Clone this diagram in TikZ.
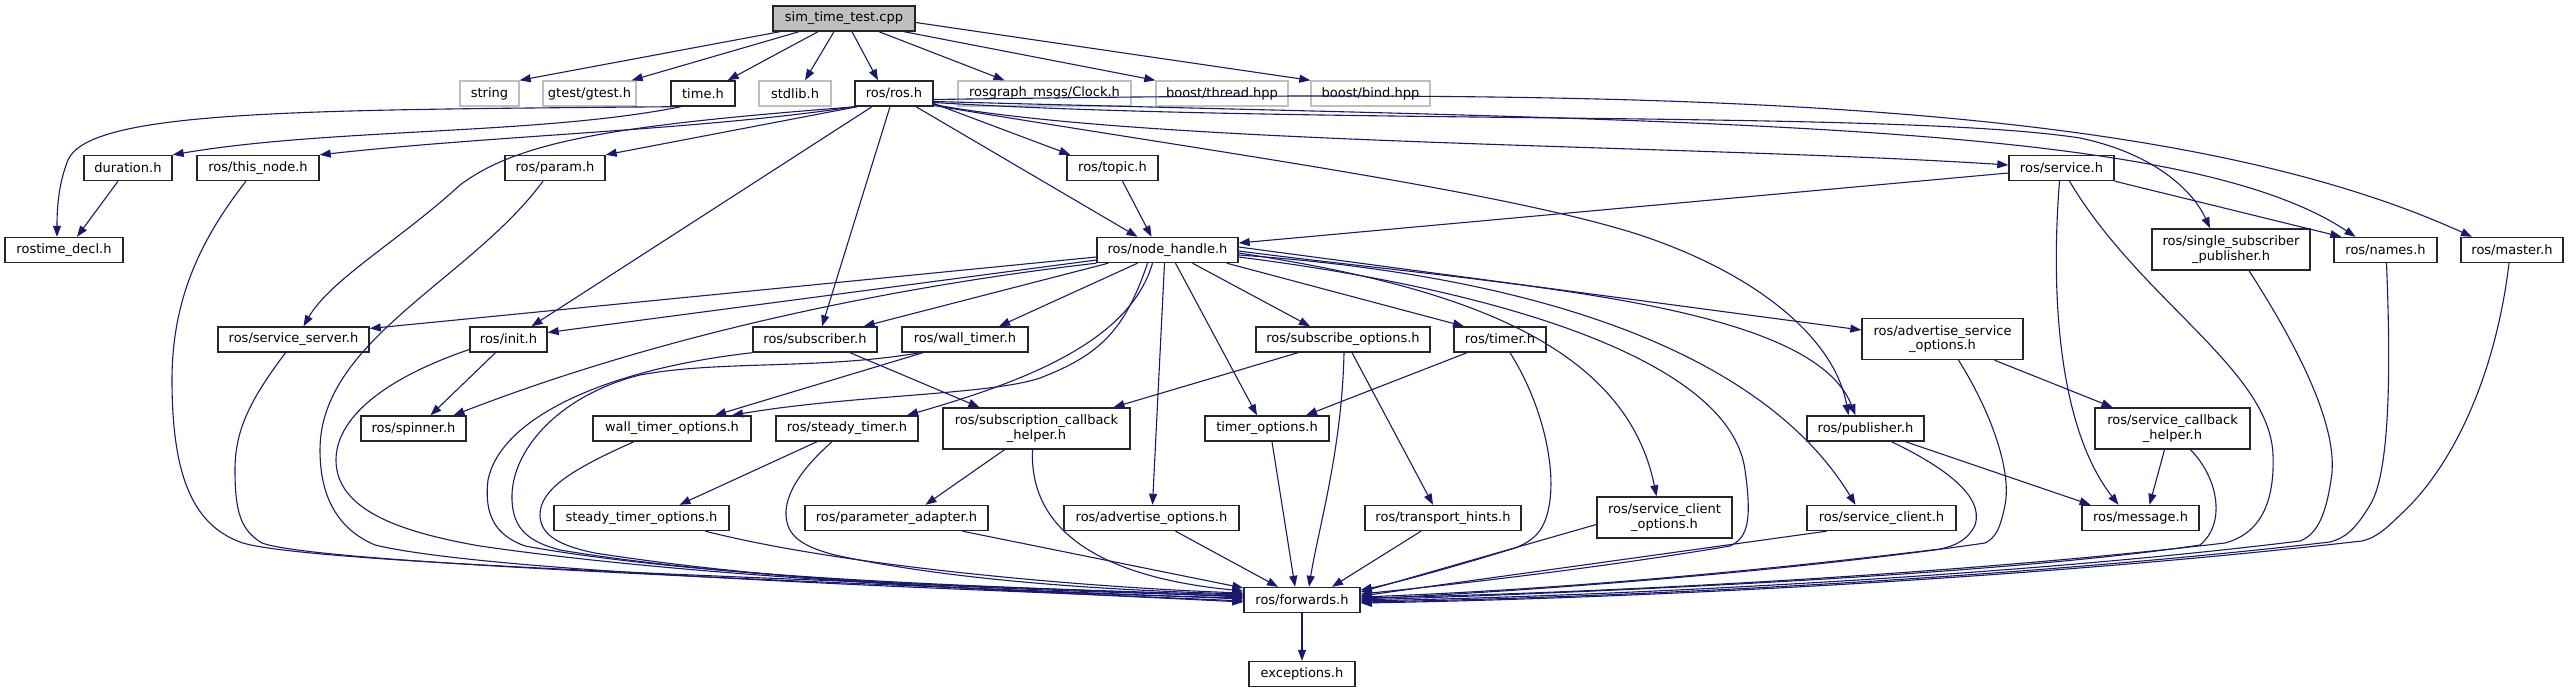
\documentclass[tikz,border=0pt]{standalone}
\usepackage{fontspec}
\setmainfont{DejaVu Sans}
\usetikzlibrary{arrows.meta}
\definecolor{edgec}{HTML}{191970}
\definecolor{extc}{HTML}{BFBFBF}
\begin{document}
\begin{tikzpicture}[x=1pt,y=-1pt,
  nd/.style={draw=black!85, line width=1.4pt, fill=white, rectangle, minimum height=25pt, inner sep=1pt, font=\fontsize{13}{14.5}\selectfont},
  two/.style={nd, minimum height=41pt, align=center},
  ext/.style={nd, draw=extc},
  root/.style={nd, fill=extc},
  e/.style={draw=edgec, line width=1.1pt, -{Triangle[length=11pt,width=8pt]}}]
\fill[white] (0,0) rectangle (2569,693);
\useasboundingbox (0,0) rectangle (2569,693);
% row 0
\node[root, minimum width=142pt] (S) at (844,18.5) {sim\_time\_test.cpp};
% row 1
\node[ext, minimum width=59pt] (str) at (489.5,93.5) {string};
\node[ext, minimum width=93pt] (gt) at (589.5,93.5) {gtest/gtest.h};
\node[nd, minimum width=64pt] (tm) at (703,93.5) {time.h};
\node[ext, minimum width=72pt] (stl) at (795,93.5) {stdlib.h};
\node[nd, minimum width=78pt] (ros) at (894,93.5) {ros/ros.h};
\node[ext, minimum width=173pt] (clk) at (1044.5,93.5) {rosgraph\_msgs/Clock.h};
\node[ext, minimum width=132pt] (thr) at (1222,93.5) {boost/thread.hpp};
\node[ext, minimum width=119pt] (bnd) at (1370.5,93.5) {boost/bind.hpp};
% row 2
\node[nd, minimum width=88pt] (dur) at (128,168) {duration.h};
\node[nd, minimum width=122pt] (tn) at (258,168) {ros/this\_node.h};
\node[nd, minimum width=100pt] (par) at (555,168) {ros/param.h};
\node[nd, minimum width=91pt] (top) at (1112.5,168) {ros/topic.h};
\node[nd, minimum width=105pt] (srv) at (2061.5,168) {ros/service.h};
% row 3
\node[nd, minimum width=118pt] (rtd) at (64,250) {rostime\_decl.h};
\node[nd, minimum width=141pt] (nh) at (1167.5,250) {ros/node\_handle.h};
\node[two, minimum width=158pt] (ssp) at (2231,249.5) {ros/single\_subscriber\\\_publisher.h};
\node[nd, minimum width=103pt] (nam) at (2385.5,250) {ros/names.h};
\node[nd, minimum width=102pt] (mst) at (2512,250) {ros/master.h};
% row 4
\node[nd, minimum width=151pt] (ss) at (293.5,339.5) {ros/service\_server.h};
\node[nd, minimum width=77pt] (ini) at (508.5,339.5) {ros/init.h};
\node[nd, minimum width=124pt] (sub) at (815,339.5) {ros/subscriber.h};
\node[nd, minimum width=126pt] (wt) at (965,339.5) {ros/wall\_timer.h};
\node[nd, minimum width=174pt] (so) at (1343,339.5) {ros/subscribe\_options.h};
\node[nd, minimum width=92pt] (tmr) at (1500,339.5) {ros/timer.h};
\node[two, minimum width=161pt] (aso) at (1942.5,339) {ros/advertise\_service\\\_options.h};
% row 5
\node[nd, minimum width=105pt] (spn) at (413.5,428.5) {ros/spinner.h};
\node[nd, minimum width=158pt] (wto) at (672,428.5) {wall\_timer\_options.h};
\node[nd, minimum width=142pt] (st) at (847,428.5) {ros/steady\_timer.h};
\node[two, minimum width=187pt] (sch) at (1036.5,428.5) {ros/subscription\_callback\\\_helper.h};
\node[nd, minimum width=124pt] (tmo) at (1267,428.5) {timer\_options.h};
\node[nd, minimum width=117pt] (pub) at (1865.5,428.5) {ros/publisher.h};
\node[two, minimum width=155pt] (scb) at (2172.5,428.5) {ros/service\_callback\\\_helper.h};
% row 6
\node[nd, minimum width=175pt] (sto) at (641.5,518) {steady\_timer\_options.h};
\node[nd, minimum width=183pt] (pa) at (896.5,518) {ros/parameter\_adapter.h};
\node[nd, minimum width=175pt] (ao) at (1151.5,518) {ros/advertise\_options.h};
\node[nd, minimum width=156pt] (th) at (1443,518) {ros/transport\_hints.h};
\node[two, minimum width=135pt] (sco) at (1664.5,517.5) {ros/service\_client\\\_options.h};
\node[nd, minimum width=149pt] (sc) at (1881.5,518) {ros/service\_client.h};
\node[nd, minimum width=117pt] (msg) at (2140.5,518) {ros/message.h};
% rows 7-8
\node[nd, minimum width=116pt] (fw) at (1302,600) {ros/forwards.h};
\node[nd, minimum width=106pt] (exc) at (1302,674) {exceptions.h};

% ---- edges from sim_time_test.cpp
\draw[e] ([xshift=-64pt]S.south) -- (str.north east);
\draw[e] ([xshift=-45pt]S.south) -- ([xshift=-5pt]gt.north east);
\draw[e] ([xshift=-26pt]S.south) -- ([xshift=-8pt]tm.north east);
\draw[e] ([xshift=-10pt]S.south) -- ([xshift=10pt]stl.north);
\draw[e] ([xshift=8pt]S.south) -- ([xshift=-16pt]ros.north);
\draw[e] ([xshift=35pt]S.south) -- ([xshift=-40pt]clk.north);
\draw[e] ([xshift=60pt]S.south) -- (thr.north west);
\draw[e] ([yshift=-4pt]S.east) -- (bnd.north west);
% ---- time.h / duration.h
\draw[e] ([xshift=-30pt]tm.south) .. controls (300,110) and (90,110) .. (68,160) .. controls (58,185) and (57,210) .. ([xshift=-7pt]rtd.north);
\draw[e] ([xshift=-22pt]tm.south) .. controls (540,135) and (330,128) .. (dur.north east);
\draw[e] ([xshift=-10pt]dur.south) -- ([xshift=13pt]rtd.north);
% ---- ros/ros.h
\draw[e] (ros.south west) .. controls (700,130) and (500,135) .. (tn.north east);
\draw[e] ([xshift=2pt]ros.south west) .. controls (620,125) and (520,140) .. (460,185) .. controls (400,240) and (330,280) .. ([xshift=10pt]ss.north);
\draw[e] ([xshift=3pt]ros.south west) -- (par.north east);
\draw[e] ([xshift=-22pt]ros.south) -- ([xshift=23pt]ini.north);
\draw[e] ([xshift=-4pt]ros.south) -- ([xshift=7pt]sub.north);
\draw[e] ([xshift=22pt]ros.south) -- ([xshift=-30pt]nh.north);
\draw[e] ([yshift=-10pt]ros.east) -- ([xshift=4pt]top.north west);
\draw[e] ([yshift=-11pt]ros.east) .. controls (1150,145) and (1700,145) .. ([yshift=3pt]srv.west);
\draw[e] ([yshift=-12pt]ros.east) .. controls (1200,150) and (1500,190) .. (1640,235) .. controls (1760,275) and (1835,340) .. ([xshift=-17pt]pub.north);
\draw[e] ([yshift=-9pt]ros.east) .. controls (1300,125) and (1900,110) .. (2080,138) .. controls (2160,155) and (2195,195) .. ([xshift=-21pt]ssp.north);
\draw[e] ([yshift=-8pt]ros.east) .. controls (1700,122) and (2180,120) .. ([xshift=-30pt]nam.north);
\draw[e] ([yshift=-6pt]ros.east) .. controls (1600,90) and (2150,90) .. ([xshift=-40pt]mst.north);
% ---- topic / service
\draw[e] ([xshift=10pt]top.south) -- ([xshift=-16pt]nh.north);
\draw[e] ([yshift=-5pt]srv.west) -- ([yshift=7pt]nh.east);
\draw[e] (srv.south east) -- ([xshift=8pt]nam.north west);
\draw[e] ([xshift=-2pt]srv.south) .. controls (2050,300) and (2060,430) .. ([xshift=-22pt]msg.north);
\draw[e] ([xshift=8pt]srv.south) .. controls (2140,300) and (2270,370) .. (2273,455) .. controls (2275,510) and (2255,535) .. (2225,543) .. controls (1950,575) and (1600,593) .. ([yshift=2pt]fw.east);
% ---- node_handle
\draw[e] ([yshift=-7pt]nh.west) -- ([yshift=11pt]ss.east);
\draw[e] ([yshift=-10pt]nh.west) -- ([yshift=7pt]ini.east);
\draw[e] (nh.south west) .. controls (950,280) and (700,320) .. ([xshift=40pt]spn.north);
\draw[e] ([xshift=12pt]nh.south west) -- ([xshift=-14pt]sub.north east);
\draw[e] ([xshift=-30pt]nh.south) -- ([xshift=34pt]wt.north);
\draw[e] ([xshift=-20pt]nh.south) .. controls (1125,330) and (1100,355) .. (1040,378) .. controls (990,395) and (850,395) .. ([xshift=60pt]wto.north);
\draw[e] ([xshift=-15pt]nh.south) .. controls (1130,340) and (1030,380) .. ([xshift=60pt]st.north);
\draw[e] ([xshift=-3pt]nh.south) -- ([xshift=1pt]ao.north);
\draw[e] ([xshift=8pt]nh.south) -- ([xshift=-10pt]tmo.north);
\draw[e] ([xshift=25pt]nh.south) -- ([xshift=-33pt]so.north);
\draw[e] ([xshift=-12pt]nh.south east) -- ([xshift=-36pt]tmr.north);
\draw[e] ([yshift=3pt]nh.east) -- ([yshift=9pt]aso.west);
\draw[e] ([yshift=-1pt]nh.east) .. controls (1500,285) and (1810,300) .. ([xshift=-10pt]pub.north);
\draw[e] ([yshift=-3pt]nh.east) .. controls (1450,285) and (1625,340) .. ([xshift=-8pt]sco.north);
\draw[e] ([yshift=-5pt]nh.east) .. controls (1600,280) and (1780,380) .. ([xshift=-26pt]sc.north);
\draw[e] ([yshift=-7pt]nh.east) .. controls (1500,290) and (1730,360) .. (1745,470) .. controls (1752,520) and (1748,538) .. (1730,546) .. controls (1600,568) and (1450,585) .. ([yshift=6pt]fw.east);
% ---- left side into forwards
\draw[e] ([xshift=-12pt]tn.south) .. controls (200,240) and (172,300) .. (172,380) .. controls (172,480) and (195,525) .. (240,542) .. controls (300,565) and (900,582) .. ([yshift=3pt]fw.west);
\draw[e] ([xshift=-8pt]ss.south) .. controls (250,400) and (235,430) .. (235,470) .. controls (235,510) and (240,530) .. (262,543) .. controls (320,565) and (900,585) .. ([yshift=1pt]fw.west);
\draw[e] ([xshift=-12pt]par.south) .. controls (470,280) and (320,340) .. (320,450) .. controls (320,500) and (340,530) .. (375,545) .. controls (500,575) and (1000,590) .. ([yshift=-1pt]fw.west);
\draw[e] ([yshift=-10pt]ini.west) .. controls (380,380) and (336,420) .. (336,460) .. controls (336,510) and (400,532) .. (480,546) .. controls (700,578) and (1000,590) .. ([yshift=-2pt]fw.west);
\draw[e] ([xshift=-13pt]ini.south) -- ([xshift=17pt]spn.north);
\draw[e] (sub.south west) .. controls (600,370) and (500,420) .. (488,480) .. controls (484,515) and (495,535) .. (525,546) .. controls (700,578) and (1000,588) .. ([yshift=5pt]fw.west);
\draw[e] ([xshift=35pt]sub.south) -- ([xshift=-57pt]sch.north);
\draw[e] ([xshift=-42pt]wt.south) -- ([xshift=43pt]wto.north);
\draw[e] ([xshift=-45pt]wt.south) .. controls (820,370) and (720,360) .. (640,375) .. controls (560,395) and (510,450) .. (512,500) .. controls (513,530) and (530,542) .. (560,550) .. controls (750,582) and (1050,591) .. ([yshift=4pt]fw.west);
\draw[e] ([xshift=-38pt]wto.south) .. controls (570,470) and (540,490) .. (540,515) .. controls (540,535) and (560,546) .. (595,553) .. controls (800,585) and (1050,593) .. ([yshift=2pt]fw.west);
\draw[e] ([xshift=-30pt]st.south) -- ([xshift=38pt]sto.north);
\draw[e] ([xshift=-15pt]st.south) .. controls (800,470) and (785,495) .. (786,515) .. controls (787,535) and (800,546) .. (835,555) .. controls (950,580) and (1100,590) .. ([yshift=6pt]fw.west);
\draw[e] ([xshift=64pt]sto.south) .. controls (850,568) and (1100,588) .. ([yshift=7pt]fw.west);
\draw[e] ([xshift=66pt]pa.south) -- ([yshift=12pt]fw.west);
\draw[e] ([xshift=-32pt]sch.south) -- ([xshift=29pt]pa.north);
\draw[e] ([xshift=-4pt]sch.south) .. controls (1028,555) and (1150,582) .. ([yshift=9pt]fw.west);
% ---- middle
\draw[e] ([xshift=-45pt]so.south) -- ([xshift=77pt]sch.north);
\draw[e] ([xshift=1pt]so.south) .. controls (1342,450) and (1318,530) .. ([xshift=7pt]fw.north);
\draw[e] ([xshift=9pt]so.south) -- ([xshift=-10pt]th.north);
\draw[e] ([xshift=-22pt]th.south) -- ([xshift=30pt]fw.north);
\draw[e] ([xshift=24pt]ao.south) -- ([xshift=-24pt]fw.north);
\draw[e] ([xshift=5pt]tmo.south) -- ([xshift=-7pt]fw.north);
\draw[e] ([xshift=-33pt]tmr.south) -- ([xshift=39pt]tmo.north);
\draw[e] ([xshift=10pt]tmr.south) .. controls (1540,400) and (1555,460) .. (1550,500) .. controls (1546,530) and (1535,540) .. (1515,548) .. controls (1460,565) and (1400,582) .. ([yshift=10pt]fw.east);
% ---- right side into forwards
\draw[e] ([yshift=-7pt]sco.west) -- ([yshift=8pt]fw.east);
\draw[e] ([xshift=-55pt]sc.south) -- ([yshift=4pt]fw.east);
\draw[e] ([xshift=40pt]pub.south) -- ([xshift=-50pt]msg.north);
\draw[e] ([xshift=26pt]pub.south) .. controls (1940,465) and (1985,495) .. (1975,525) .. controls (1968,540) and (1955,546) .. (1940,549) .. controls (1750,572) and (1550,590) .. ([yshift=3pt]fw.east);
\draw[e] ([xshift=52pt]aso.south) -- ([xshift=-60pt]scb.north);
\draw[e] ([xshift=16pt]aso.south) .. controls (1990,410) and (2012,470) .. (2005,505) .. controls (2000,530) and (1995,538) .. (1985,543) .. controls (1800,570) and (1550,590) .. ([yshift=1pt]fw.east);
\draw[e] ([xshift=-8pt]scb.south) -- ([xshift=9pt]msg.north);
\draw[e] ([xshift=18pt]scb.south) .. controls (2220,480) and (2225,525) .. (2200,545) .. controls (2000,575) and (1600,592) .. (fw.east);
\draw[e] ([xshift=18pt]ssp.south) .. controls (2300,350) and (2340,430) .. (2331,480) .. controls (2325,520) and (2315,535) .. (2300,541) .. controls (2000,578) and (1600,596) .. ([yshift=-1pt]fw.east);
\draw[e] ([xshift=1pt]nam.south) .. controls (2390,350) and (2392,470) .. (2370,505) .. controls (2355,530) and (2345,538) .. (2330,542) .. controls (2000,580) and (1600,598) .. ([yshift=-2pt]fw.east);
\draw[e] ([xshift=-3pt]mst.south) .. controls (2495,380) and (2450,470) .. (2400,515) .. controls (2385,530) and (2375,538) .. (2362,541) .. controls (2000,582) and (1600,599) .. ([yshift=-3pt]fw.east);
% ---- forwards -> exceptions
\draw[e] (fw.south) -- (exc.north);
\end{tikzpicture}
\end{document}
